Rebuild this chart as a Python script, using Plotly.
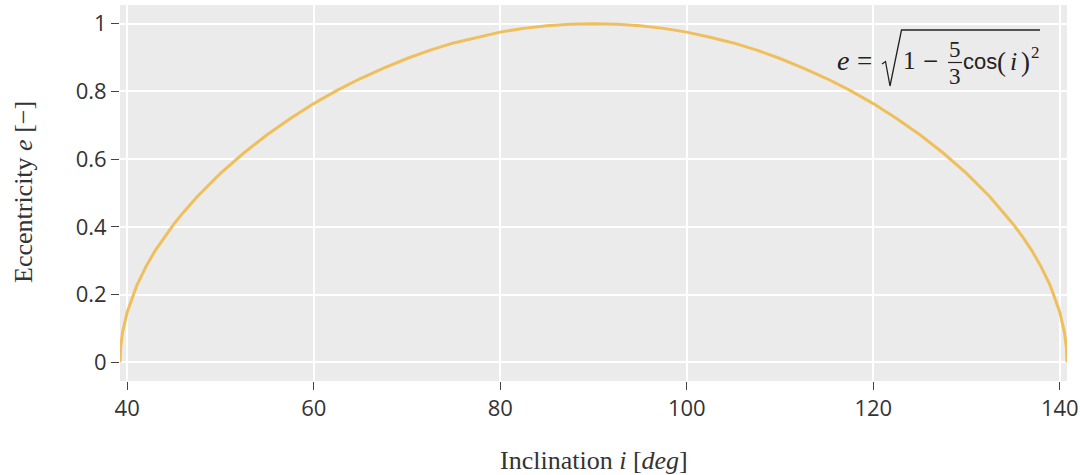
import plotly.graph_objects as go

# Maximum eccentricity reached for a given initial inclination
inclination = [39.23, 39.3, 39.5, 40, 41, 42, 43, 44, 45, 46, 47.5, 50, 52.5, 55, 57.5,
               60, 62.5, 65, 67.5, 70, 72.5, 75, 77.5, 80, 82.5, 85, 87.5, 90,
               92.5, 95, 97.5, 100, 102.5, 105, 107.5, 110, 112.5, 115, 117.5, 120,
               122.5, 125, 127.5, 130, 132.5, 134, 135, 136, 137, 138, 139, 140,
               140.5, 140.7, 140.77]
eccentricity = [0.0, 0.045, 0.088, 0.148, 0.225, 0.282, 0.330, 0.371, 0.408, 0.442, 0.489,
                0.558, 0.618, 0.672, 0.720, 0.764, 0.803, 0.838, 0.869, 0.897, 0.922,
                0.943, 0.960, 0.975, 0.986, 0.994, 0.998, 1.0,
                0.998, 0.994, 0.986, 0.975, 0.960, 0.943, 0.922, 0.897, 0.869, 0.838,
                0.803, 0.764, 0.720, 0.672, 0.618, 0.558, 0.489, 0.442, 0.408, 0.371,
                0.330, 0.282, 0.225, 0.148, 0.088, 0.045, 0.0]

x_ticks = [40, 60, 80, 100, 120, 140]
y_ticks = [0, 0.2, 0.4, 0.6, 0.8, 1]
y_tick_labels = ["0", "0.2", "0.4", "0.6", "0.8", "1"]

W, H = 1080, 475
ML, MR, MT, MB = 120, 13, 5, 94
PW, PH = W - ML - MR, H - MT - MB

def px(x):
    return (x - ML) / PW

def py(y):
    return (H - MB - y) / PH

SERIF = "Liberation Serif"
SANS = "Liberation Sans"
TXT = "#333333"
INK = "#222222"

fig = go.Figure()
fig.add_trace(go.Scatter(
    x=inclination, y=eccentricity, mode="lines",
    line=dict(color="#EFBF5D", width=3), hoverinfo="x+y", showlegend=False,
))

axis_common = dict(
    showgrid=True, gridcolor="white", gridwidth=1.5, zeroline=False,
    ticks="outside", ticklen=8, tickwidth=1, tickcolor="#444",
    tickfont=dict(family="Open Sans", size=22, color=TXT),
    showline=False, automargin=False,
)

fig.update_xaxes(range=[39.23, 140.77], tickvals=x_ticks, **axis_common)
fig.update_yaxes(range=[-0.055, 1.055], tickvals=y_ticks, ticktext=y_tick_labels,
                 **axis_common)

# Axis titles
fig.add_annotation(text="Inclination <i>i</i> [<i>deg</i>]", x=px(594), y=py(460),
                   xref="paper", yref="paper", xanchor="center", yanchor="middle",
                   showarrow=False, font=dict(family=SERIF, size=26, color=TXT))
fig.add_annotation(text="Eccentricity <i>e</i> [−]", x=px(23), y=py(192),
                   xref="paper", yref="paper", xanchor="center", yanchor="middle",
                   textangle=-90, showarrow=False,
                   font=dict(family=SERIF, size=26, color=TXT))

# Formula label e = sqrt(1 - 5/3 cos(i)^2), built from text pieces and strokes
pieces = [
    ("<i>e</i>", 843, 60, SERIF, 28),
    ("=", 864, 61, SERIF, 27),
    ("1", 909, 60, SERIF, 25),
    ("−", 930, 61, SERIF, 27),
    ("5", 955, 49, SERIF, 23),
    ("3", 955, 76, SERIF, 23),
    ("cos", 980, 61, SANS, 22),
    ("(", 1001, 62, SERIF, 27),
    ("<i>i</i>", 1013, 61, SERIF, 26),
    (")", 1025, 62, SERIF, 27),
    ("2", 1035, 52, SERIF, 17),
]
for text, x, y, fam, size in pieces:
    fig.add_annotation(
        text=text, x=px(x), y=py(y), xref="paper", yref="paper",
        xanchor="center", yanchor="middle", showarrow=False,
        font=dict(family=fam, size=size, color=INK),
    )

sqrt_path = "M {} {} L {} {} L {} {} L {} {} L {} {}".format(
    px(882), py(64), px(885.5), py(61.5), px(890), py(86), px(901.5), py(30),
    px(1040), py(30))
fig.add_shape(type="path", path=sqrt_path, xref="paper", yref="paper",
              line=dict(color=INK, width=1.3))
fig.add_shape(type="line", x0=px(948), x1=px(962), y0=py(62.5), y1=py(62.5),
              xref="paper", yref="paper", line=dict(color=INK, width=1.2))

fig.update_layout(
    width=W, height=H,
    margin=dict(l=ML, r=MR, t=MT, b=MB),
    plot_bgcolor="#EBEBEB", paper_bgcolor="white",
)

fig.write_html("out.html")
